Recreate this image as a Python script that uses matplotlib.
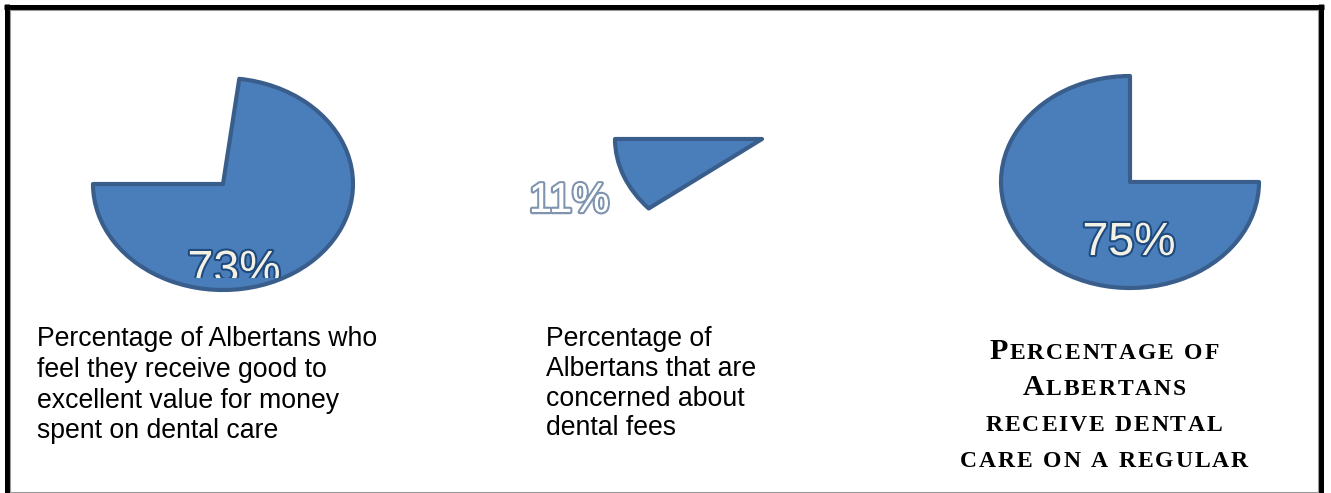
import matplotlib
matplotlib.use("Agg")
import matplotlib.pyplot as plt
import matplotlib.patheffects as pe
from matplotlib.transforms import Bbox

# ---------------- data ----------------
percent_values = [73, 11, 75]
percent_labels = ["73%", "11%", "75%"]
start_angles = [180, 180, 90]
caption_left = ["Percentage of Albertans who", "feel they receive good to",
                "excellent value for money", "spent on dental care"]
caption_middle = ["Percentage of", "Albertans that are", "concerned about", "dental fees"]
caption_right = ["Percentage of", "Albertans", "receive dental", "care on a regular"]

# ---------------- layout / style ----------------
W, H, DPI = 1331, 493, 100
FILL = "#4A7EBB"
EDGE = "#3A5E8C"
# ellipse geometry in pixels: (centre x, centre y, half-width, half-height)
pie_geom = [(223, 184, 130, 106), (762, 139, 147, 109), (1130, 182, 129, 106)]

fig = plt.figure(figsize=(W / DPI, H / DPI), dpi=DPI)
fig.patch.set_facecolor("white")

pie_axes = []
for val, start, (cx, cy, a, b) in zip(percent_values, start_angles, pie_geom):
    ax = fig.add_axes([(cx - a) / W, (H - (cy + b)) / H, 2 * a / W, 2 * b / H])
    wedges, _ = ax.pie([val, 100 - val], startangle=start, counterclock=True,
                       colors=[FILL, "none"], radius=1,
                       wedgeprops=dict(edgecolor=EDGE, linewidth=3.0, joinstyle="round"))
    wedges[1].set_visible(False)
    wedges[0].set_clip_on(False)
    ax.set_aspect("auto")
    ax.set_xlim(-1, 1)
    ax.set_ylim(-1, 1)
    ax.axis("off")
    pie_axes.append(ax)

# overlay axes in pixel coordinates
ov = fig.add_axes([0, 0, 1, 1])
ov.set_xlim(0, W)
ov.set_ylim(H, 0)
ov.axis("off")

# frame
ov.plot([6.5, 6.5], [4, H + 5], color="black", lw=3.6, solid_capstyle="butt")
ov.plot([4, 1323.5], [6.5, 6.5], color="black", lw=3.6, solid_capstyle="butt")
ov.plot([1321, 1321], [4, H + 5], color="black", lw=3.6, solid_capstyle="butt")
ov.plot([10, 1318, 1318], [10, 10, H], color="#9a9a9a", lw=0.8)
ov.plot([10, 10, 1318], [10, 491.5, 491.5], color="#9a9a9a", lw=0.8)

# percentage labels
sans = "Liberation Sans"
t73 = ov.text(234, 283, percent_labels[0], fontsize=33.5, family=sans, color="#F3F1E4",
              ha="center", va="baseline",
              path_effects=[pe.withStroke(linewidth=3, foreground="#1F4A7E")])
t73.set_clip_box(Bbox.from_extents(0, H - 278, W, H))
t73.set_clip_on(True)

ov.text(569, 212, percent_labels[1], fontsize=30, family=sans, color="white",
        ha="center", va="baseline",
        path_effects=[pe.withStroke(linewidth=3.2, foreground="#7F94AF"),
                      pe.Normal()])
ov.text(1129, 255, percent_labels[2], fontsize=33.5, family=sans, color="#F3F1E4",
        ha="center", va="baseline",
        path_effects=[pe.withStroke(linewidth=3, foreground="#1F4A7E")])

# sans captions
for i, line in enumerate(caption_left):
    ov.text(37, 346 + i * 30.8, line, fontsize=19.2, family=sans, color="black",
            ha="left", va="baseline")
for i, line in enumerate(caption_middle):
    ov.text(546, 346 + i * 29.8, line, fontsize=19.2, family=sans, color="black",
            ha="left", va="baseline")

# small-caps serif caption
renderer = fig.canvas.get_renderer()
serif = "Liberation Serif"
BIG, SMALL, TRACK = 21.5, 17, 1.8


def smallcaps_line(text, cx, ybase):
    pieces = []
    for word in text.split(" "):
        for j, ch in enumerate(word):
            pieces.append((ch.upper(), BIG if (j == 0 and ch.isupper()) else SMALL))
        pieces.append((" ", None))
    pieces = pieces[:-1]
    widths = []
    for ch, size in pieces:
        if ch == " ":
            widths.append(SMALL * 0.3 * DPI / 72)
        else:
            t = ov.text(0, 0, ch, fontsize=size, family=serif, weight="bold")
            widths.append(t.get_window_extent(renderer).width)
            t.remove()
    total = sum(widths) + TRACK * (len(pieces) - 1)
    x = cx - total / 2
    for (ch, size), w in zip(pieces, widths):
        if ch != " ":
            ov.text(x, ybase, ch, fontsize=size, family=serif, weight="bold",
                    color="black", ha="left", va="baseline")
        x += w + TRACK


for i, line in enumerate(caption_right):
    smallcaps_line(line, 1104, 359 + i * 36)

fig.savefig("out.png", dpi=DPI, facecolor="white")
